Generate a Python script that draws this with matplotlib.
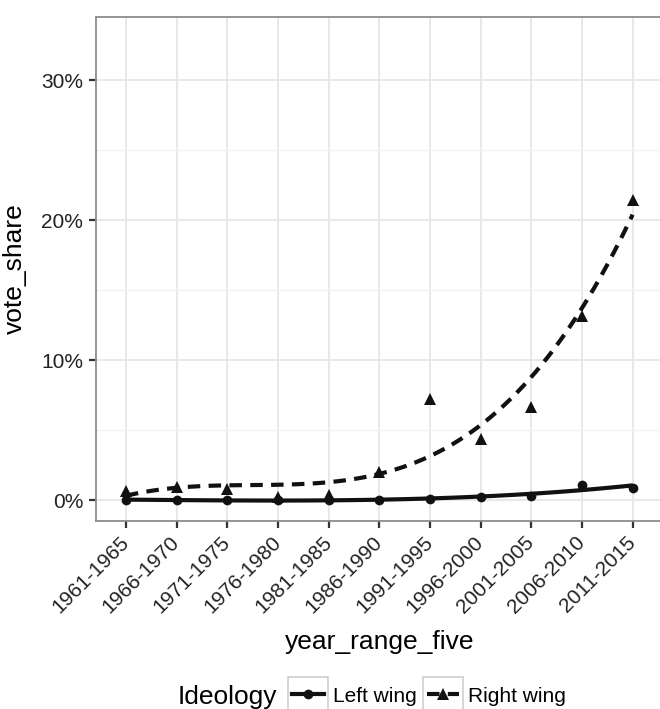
import numpy as np
import matplotlib
matplotlib.use("Agg")
import matplotlib.pyplot as plt
from matplotlib.ticker import FuncFormatter, MultipleLocator
from matplotlib.patches import Rectangle
from matplotlib.lines import Line2D

plt.rcParams['font.family'] = ['Liberation Sans', 'DejaVu Sans']

# ---- data -------------------------------------------------------------
year_ranges = ["1961-1965", "1966-1970", "1971-1975", "1976-1980", "1981-1985",
               "1986-1990", "1991-1995", "1996-2000", "2001-2005", "2006-2010",
               "2011-2015"]
left_wing = [0.0, 0.0, 0.0, 0.0, 0.0, 0.0, 0.05, 0.19, 0.31, 1.10, 0.86]
right_wing = [0.62, 0.95, 0.80, 0.24, 0.38, 2.03, 7.23, 4.37, 6.63, 13.15, 21.40]
y_ticks = [0, 10, 20, 30]
legend_title = "Ideology"
series_names = ["Left wing", "Right wing"]


def poly_smooth(x, y, xs, degree=3):
    """Least-squares polynomial trend evaluated on a fine grid."""
    coef = np.polyfit(np.asarray(x, float), np.asarray(y, float), degree)
    return np.polyval(coef, xs)


W_PX, H_PX = 660, 709
fig = plt.figure(figsize=(W_PX / 100, H_PX / 100), dpi=100)
fig.patch.set_facecolor("white")

left, right, top, bottom = 95.6, 663.0, 17.0, 521.0
ax = fig.add_axes([left / W_PX, 1 - bottom / H_PX,
                   (right - left) / W_PX, (bottom - top) / H_PX])

x = np.arange(len(year_ranges))
xs = np.linspace(0, len(year_ranges) - 1, 80)

ink = "#111111"
ax.plot(xs, poly_smooth(x, left_wing, xs), color=ink, lw=3.0,
        solid_capstyle="butt", zorder=3)
ax.plot(xs, poly_smooth(x, right_wing, xs), color=ink, lw=3.0,
        linestyle=(0, (3, 2)), dash_capstyle="butt", zorder=3)
ax.plot(x, left_wing, "o", color=ink, ms=7, mew=0, zorder=4)
ax.plot(x, right_wing, "^", color=ink, ms=8.5, mew=0, zorder=4)

ax.set_xlim(-0.6, len(year_ranges) - 1 + 0.6)
ax.set_ylim(-1.5, 34.5)
ax.set_xticks(x)
ax.set_xticklabels(year_ranges, rotation=45, ha="right", va="center",
                   rotation_mode="anchor", fontsize=15, color="#222222")
ax.set_yticks(y_ticks)
ax.yaxis.set_minor_locator(MultipleLocator(5))
ax.yaxis.set_major_formatter(FuncFormatter(lambda v, p: f"{v:.0f}%"))
ax.tick_params(axis="y", labelsize=15, labelcolor="#222222")
ax.tick_params(which="major", length=5, width=1.6, color="#333333", pad=4)
ax.tick_params(axis="x", pad=8)
ax.tick_params(which="minor", length=0)

ax.grid(True, which="major", color="#e6e6e6", lw=1.3)
ax.grid(True, which="minor", axis="y", color="#f1f1f1", lw=1.0)
ax.set_axisbelow(True)
for s in ax.spines.values():
    s.set_color("#8c8c8c")
    s.set_linewidth(1.3)

ax.set_xlabel("year_range_five", fontsize=19, color="black", labelpad=10)
ax.set_ylabel("vote_share", fontsize=19, color="black", labelpad=10)


# ---- legend, laid out along the bottom ---------------------------------
def fx(px):
    return px / W_PX


def fy(py):
    return 1 - py / H_PX


cy = 697
fig.text(fx(178), fy(cy), legend_title, fontsize=19, va="center", ha="left")
keys = [(288, "-", "o", 7), (423, (0, (3, 2)), "^", 8.5)]
for (kx, ls, mk, ms), name in zip(keys, series_names):
    fig.add_artist(Rectangle((fx(kx), fy(cy + 20)), 40 / W_PX, 40 / H_PX,
                             transform=fig.transFigure, facecolor="white",
                             edgecolor="#cfcfcf", lw=1.2))
    fig.add_artist(Line2D([fx(kx + 4), fx(kx + 36)], [fy(cy - 3), fy(cy - 3)],
                          transform=fig.transFigure, color=ink, lw=3.0,
                          linestyle=ls, dash_capstyle="butt"))
    fig.add_artist(Line2D([fx(kx + 20)], [fy(cy - 3)], transform=fig.transFigure,
                          marker=mk, color=ink, ms=ms, mew=0))
    fig.text(fx(kx + 45), fy(cy), name, fontsize=15, va="center", ha="left")

fig.savefig("out.png", dpi=100, facecolor="white")
